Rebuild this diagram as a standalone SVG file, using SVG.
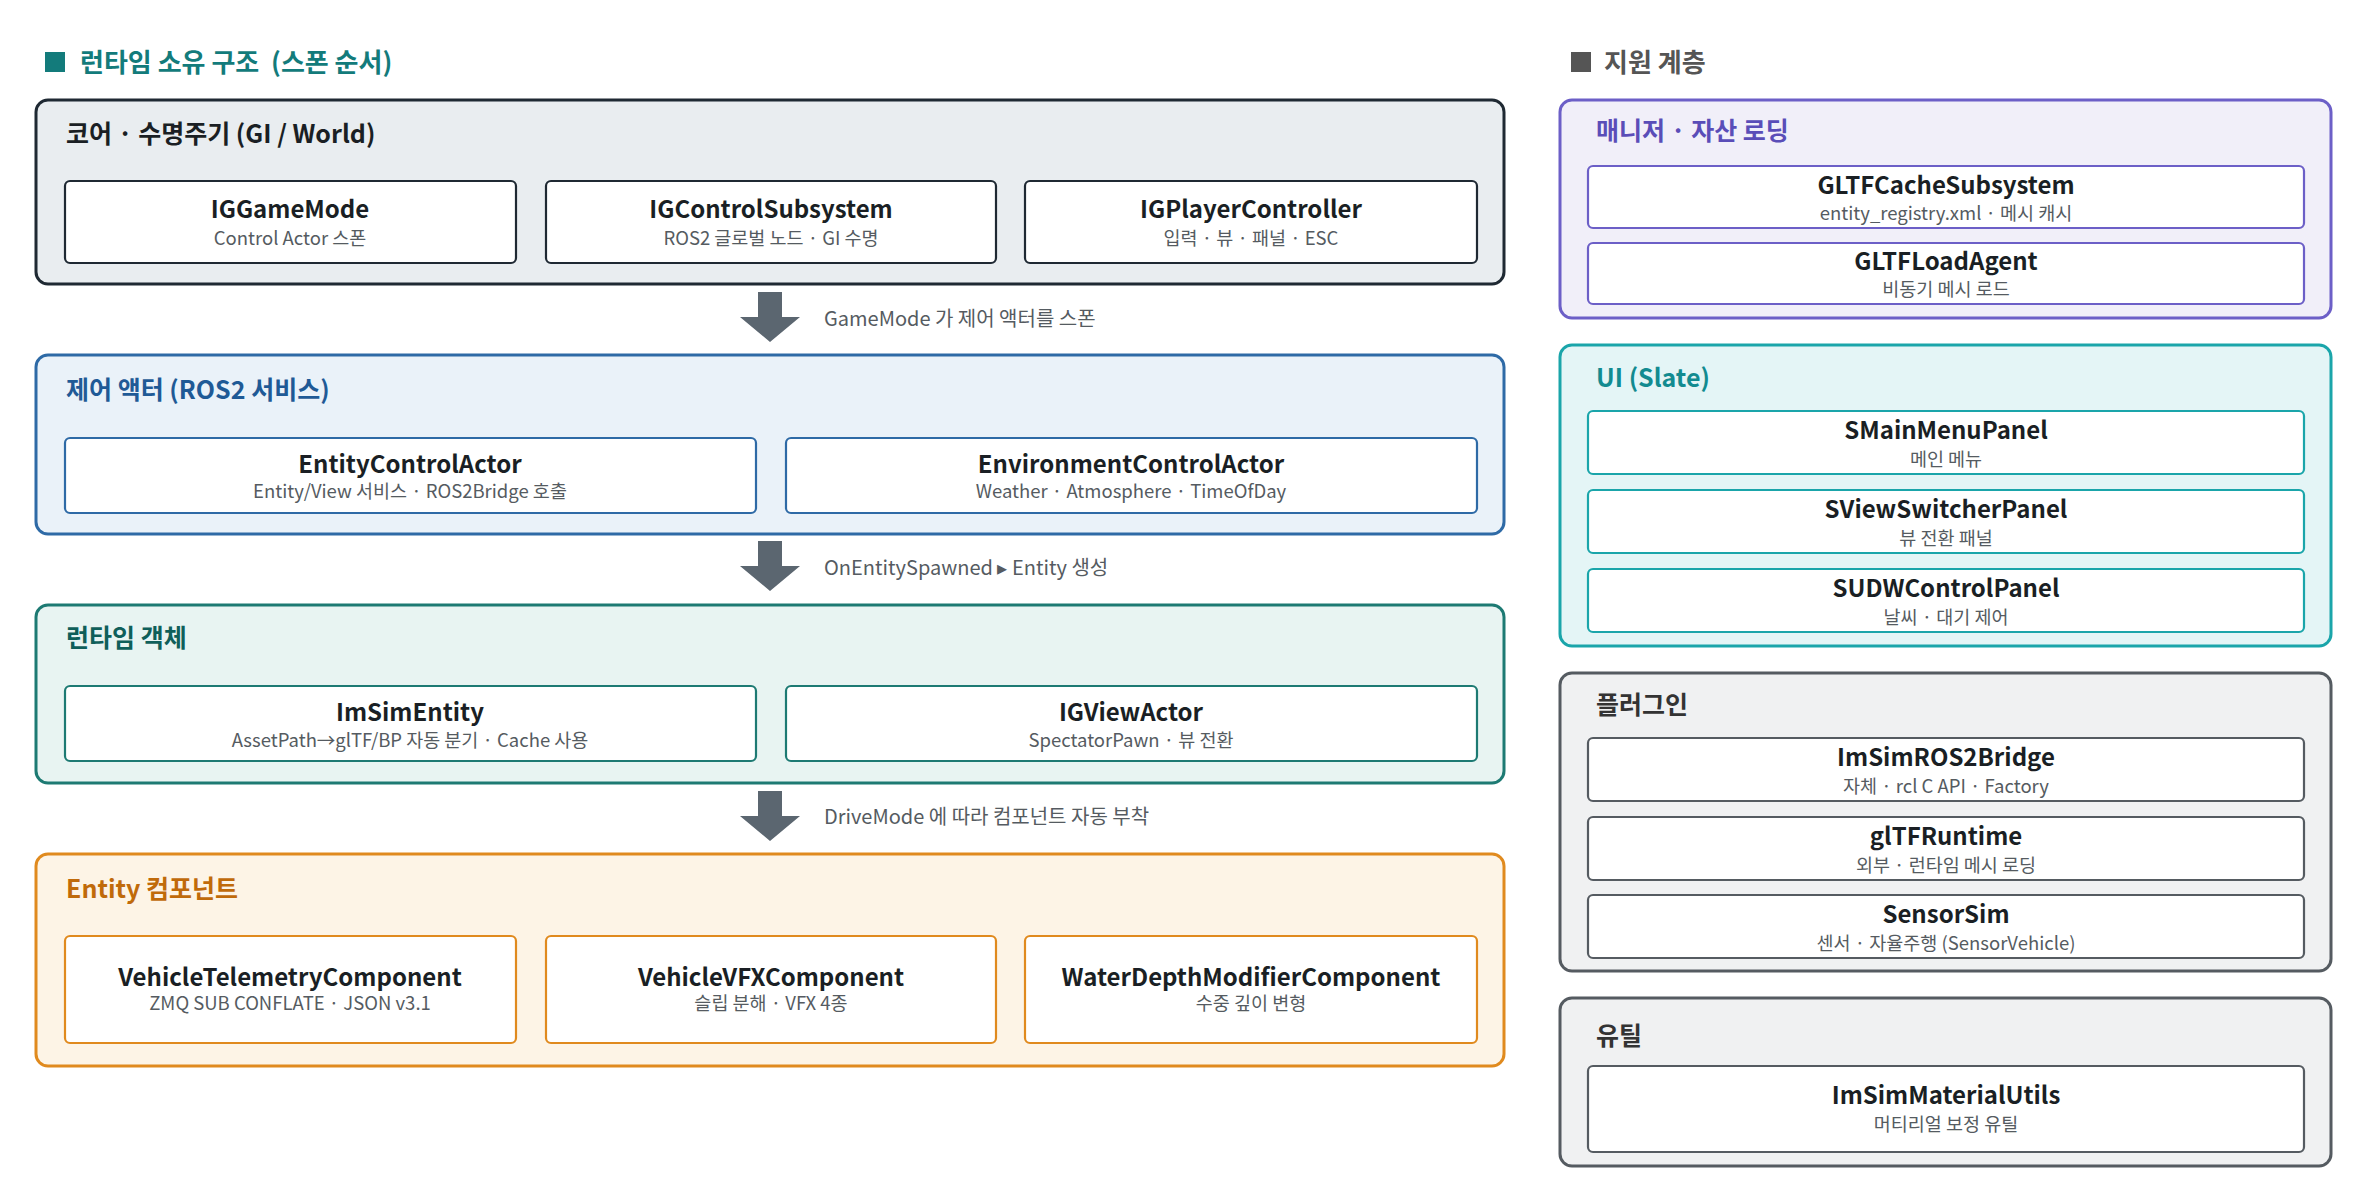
<svg xmlns="http://www.w3.org/2000/svg" width="2371" height="1180" viewBox="0 0 2371 1180">
<style>
text{font-family:"Noto Sans CJK KR","Noto Sans",sans-serif}
.sec{font-size:26px;font-weight:bold}
.hdr{font-size:25px;font-weight:bold}
.t{font-size:24px;font-weight:bold;fill:#1a1f24;text-anchor:middle}
.s{font-size:18.5px;fill:#555b61;text-anchor:middle}
.lbl{font-size:20px;fill:#555b61}
.in{fill:#fff;stroke-width:2.2}
.ar{fill:#5b6670}
</style>
<rect width="2371" height="1180" fill="#fff"/>
<rect x="45" y="52" width="20" height="20" fill="#137b7b"/>
<text x="80" y="72" class="sec" fill="#137b7b" xml:space="preserve">런타임 소유 구조  (스폰 순서)</text>
<rect x="1571" y="52" width="20" height="20" fill="#555"/>
<text x="1604" y="72" class="sec" fill="#555">지원 계층</text>

<g id="core">
<rect x="36" y="100" width="1468" height="184" rx="12" fill="#e9edf0" stroke="#1f2933" stroke-width="3"/>
<text x="66" y="143" class="hdr" fill="#1a1f24">코어 · 수명주기 (GI / World)</text>
<g id="IGGameMode"><rect x="65" y="181" width="451" height="82" rx="5" class="in" stroke="#1f2933"/><text x="290" y="218" class="t">IGGameMode</text><text x="290" y="245" class="s">Control Actor 스폰</text></g>
<g id="IGControlSubsystem"><rect x="546" y="181" width="450" height="82" rx="5" class="in" stroke="#1f2933"/><text x="771" y="218" class="t">IGControlSubsystem</text><text x="771" y="245" class="s">ROS2 글로벌 노드 · GI 수명</text></g>
<g id="IGPlayerController"><rect x="1025" y="181" width="452" height="82" rx="5" class="in" stroke="#1f2933"/><text x="1251" y="218" class="t">IGPlayerController</text><text x="1251" y="245" class="s">입력 · 뷰 · 패널 · ESC</text></g>
</g>

<g id="control">
<rect x="36" y="355" width="1468" height="179" rx="12" fill="#eaf2f9" stroke="#2e6aa6" stroke-width="3"/>
<text x="66" y="399" class="hdr" fill="#1f5a96">제어 액터 (ROS2 서비스)</text>
<g id="EntityControlActor"><rect x="65" y="438" width="691" height="75" rx="5" class="in" stroke="#2e6aa6"/><text x="410" y="473" class="t">EntityControlActor</text><text x="410" y="498" class="s">Entity/View 서비스 · ROS2Bridge 호출</text></g>
<g id="EnvironmentControlActor"><rect x="786" y="438" width="691" height="75" rx="5" class="in" stroke="#2e6aa6"/><text x="1131" y="473" class="t">EnvironmentControlActor</text><text x="1131" y="498" class="s">Weather · Atmosphere · TimeOfDay</text></g>
</g>

<g id="runtime">
<rect x="36" y="605" width="1468" height="178" rx="12" fill="#e8f4f2" stroke="#1d7a73" stroke-width="3"/>
<text x="66" y="647" class="hdr" fill="#0f5f5a">런타임 객체</text>
<g id="ImSimEntity"><rect x="65" y="686" width="691" height="75" rx="5" class="in" stroke="#1d7a73"/><text x="410" y="721" class="t">ImSimEntity</text><text x="410" y="747" class="s">AssetPath→glTF/BP 자동 분기 · Cache 사용</text></g>
<g id="IGViewActor"><rect x="786" y="686" width="691" height="75" rx="5" class="in" stroke="#1d7a73"/><text x="1131" y="721" class="t">IGViewActor</text><text x="1131" y="747" class="s">SpectatorPawn · 뷰 전환</text></g>
</g>

<g id="components">
<rect x="36" y="854" width="1468" height="212" rx="12" fill="#fdf4e6" stroke="#e08a1e" stroke-width="3"/>
<text x="66" y="898" class="hdr" fill="#c06a0a">Entity 컴포넌트</text>
<g id="VehicleTelemetryComponent"><rect x="65" y="936" width="451" height="107" rx="5" class="in" stroke="#e08a1e"/><text x="290" y="986" class="t">VehicleTelemetryComponent</text><text x="290" y="1010" class="s">ZMQ SUB CONFLATE · JSON v3.1</text></g>
<g id="VehicleVFXComponent"><rect x="546" y="936" width="450" height="107" rx="5" class="in" stroke="#e08a1e"/><text x="771" y="986" class="t">VehicleVFXComponent</text><text x="771" y="1010" class="s">슬립 분해 · VFX 4종</text></g>
<g id="WaterDepthModifierComponent"><rect x="1025" y="936" width="452" height="107" rx="5" class="in" stroke="#e08a1e"/><text x="1251" y="986" class="t">WaterDepthModifierComponent</text><text x="1251" y="1010" class="s">수중 깊이 변형</text></g>
</g>

<g id="manager">
<rect x="1560" y="100" width="771" height="218" rx="12" fill="#f1eff9" stroke="#6c5fc7" stroke-width="3"/>
<text x="1596" y="140" class="hdr" fill="#5a4db8">매니저 · 자산 로딩</text>
<g id="GLTFCacheSubsystem"><rect x="1588" y="166" width="716" height="62" rx="5" class="in" stroke="#6c5fc7"/><text x="1946" y="194" class="t">GLTFCacheSubsystem</text><text x="1946" y="220" class="s">entity_registry.xml · 메시 캐시</text></g>
<g id="GLTFLoadAgent"><rect x="1588" y="243" width="716" height="61" rx="5" class="in" stroke="#6c5fc7"/><text x="1946" y="270" class="t">GLTFLoadAgent</text><text x="1946" y="296" class="s">비동기 메시 로드</text></g>
</g>

<g id="ui">
<rect x="1560" y="345" width="771" height="301" rx="12" fill="#e4f5f6" stroke="#1aa5aa" stroke-width="3"/>
<text x="1596" y="387" class="hdr" fill="#128b90">UI (Slate)</text>
<g id="SMainMenuPanel"><rect x="1588" y="411" width="716" height="63" rx="5" class="in" stroke="#1aa5aa"/><text x="1946" y="439" class="t">SMainMenuPanel</text><text x="1946" y="466" class="s">메인 메뉴</text></g>
<g id="SViewSwitcherPanel"><rect x="1588" y="490" width="716" height="63" rx="5" class="in" stroke="#1aa5aa"/><text x="1946" y="518" class="t">SViewSwitcherPanel</text><text x="1946" y="545" class="s">뷰 전환 패널</text></g>
<g id="SUDWControlPanel"><rect x="1588" y="569" width="716" height="63" rx="5" class="in" stroke="#1aa5aa"/><text x="1946" y="597" class="t">SUDWControlPanel</text><text x="1946" y="624" class="s">날씨 · 대기 제어</text></g>
</g>

<g id="plugins">
<rect x="1560" y="673" width="771" height="298" rx="12" fill="#f0f1f2" stroke="#555b61" stroke-width="3"/>
<text x="1596" y="714" class="hdr" fill="#333">플러그인</text>
<g id="ImSimROS2Bridge"><rect x="1588" y="738" width="716" height="63" rx="5" class="in" stroke="#555b61"/><text x="1946" y="766" class="t">ImSimROS2Bridge</text><text x="1946" y="793" class="s">자체 · rcl C API · Factory</text></g>
<g id="glTFRuntime"><rect x="1588" y="817" width="716" height="63" rx="5" class="in" stroke="#555b61"/><text x="1946" y="845" class="t">glTFRuntime</text><text x="1946" y="872" class="s">외부 · 런타임 메시 로딩</text></g>
<g id="SensorSim"><rect x="1588" y="895" width="716" height="63" rx="5" class="in" stroke="#555b61"/><text x="1946" y="923" class="t">SensorSim</text><text x="1946" y="950" class="s">센서 · 자율주행 (SensorVehicle)</text></g>
</g>

<g id="utils">
<rect x="1560" y="998" width="771" height="168" rx="12" fill="#f0f1f2" stroke="#555b61" stroke-width="3"/>
<text x="1596" y="1045" class="hdr" fill="#333">유틸</text>
<g id="ImSimMaterialUtils"><rect x="1588" y="1066" width="716" height="86" rx="5" class="in" stroke="#555b61"/><text x="1946" y="1104" class="t">ImSimMaterialUtils</text><text x="1946" y="1131" class="s">머티리얼 보정 유틸</text></g>
</g>

<g id="connectors">
<path class="ar" d="M758 292H782V317H800L770 342L740 317H758Z"/>
<text x="824" y="326" class="lbl">GameMode 가 제어 액터를 스폰</text>
<path class="ar" d="M758 541H782V566H800L770 591L740 566H758Z"/>
<text x="824" y="575" class="lbl">OnEntitySpawned ▸ Entity 생성</text>
<path class="ar" d="M758 791H782V816H800L770 841L740 816H758Z"/>
<text x="824" y="824" class="lbl">DriveMode 에 따라 컴포넌트 자동 부착</text>
</g>
</svg>
